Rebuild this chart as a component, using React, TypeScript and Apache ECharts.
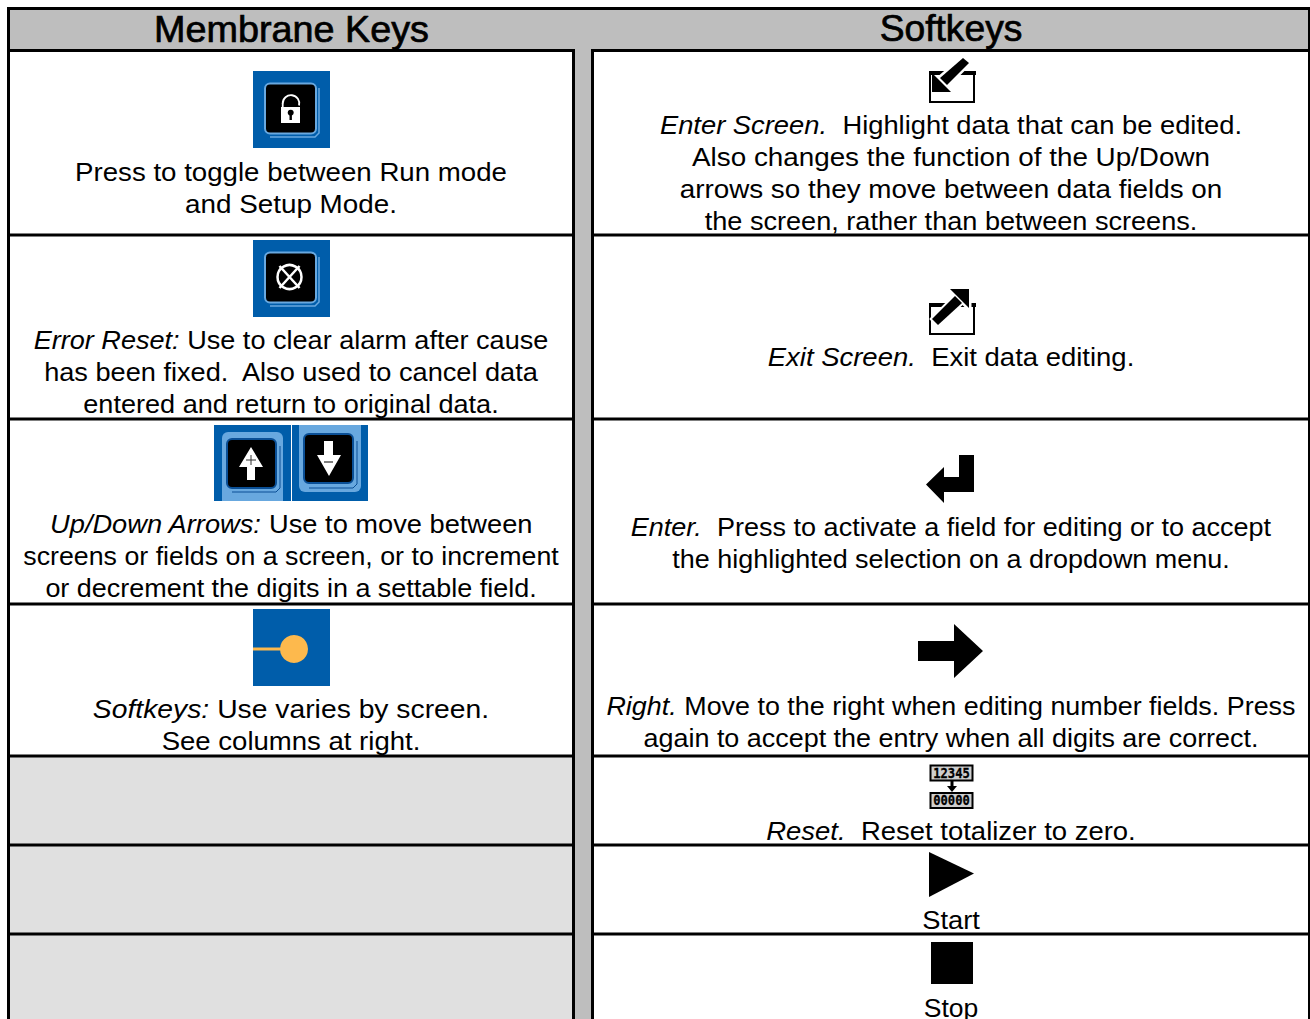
import React, { useEffect, useRef } from "react";
import * as echarts from "echarts";

const headers = ["Membrane Keys", "Softkeys"];
const membraneLines = [
  "Press to toggle between Run mode",
  "and Setup Mode.",
  "{i|Error Reset:} Use to clear alarm after cause",
  "has been fixed.  Also used to cancel data",
  "entered and return to original data.",
  "{i|Up/Down Arrows:} Use to move between",
  "screens or fields on a screen, or to increment",
  "or decrement the digits in a settable field.",
  "{i|Softkeys:} Use varies by screen.",
  "See columns at right.",
];
const softkeyLines = [
  "{i|Enter Screen.}  Highlight data that can be edited.",
  "Also changes the function of the Up/Down",
  "arrows so they move between data fields on",
  "the screen, rather than between screens.",
  "{i|Exit Screen.}  Exit data editing.",
  "{i|Enter.}  Press to activate a field for editing or to accept",
  "the highlighted selection on a dropdown menu.",
  "{i|Right.} Move to the right when editing number fields. Press",
  "again to accept the entry when all digits are correct.",
  "{i|Reset.}  Reset totalizer to zero.",
  "Start",
  "Stop",
];
const counterTop = "12345";
const counterBottom = "00000";

const membraneY = [172, 204, 340, 372, 404, 524, 556, 588, 709, 741];
const membraneStretch = [1.044, 1.05, 1.022, 1.025, 1.022, 1.028, 1.01, 1.017, 1.068, 1.04];
const softkeyY = [125, 157, 189, 221, 357, 527, 559, 706, 738, 831, 920, 1008];
const softkeyStretch = [1.032, 1.05, 1.05, 1.023, 1.037, 1.02, 1.018, 1.015, 1.016, 1.037, 1.03, 1];
const rowLines = [235, 419, 604, 756, 845, 934];

const FONT = '"Liberation Sans", Arial, sans-serif';
const BLUE = "#005DAA";
const LIGHT = "#68A8DF";
const B = "#000";

const rect = (x: number, y: number, w: number, h: number, fill: string, r: any = 0, extra: any = {}) => ({
  type: "rect",
  shape: { x, y, width: w, height: h, r },
  style: { fill, ...extra },
});
const poly = (pts: number[][], fill: string, extra: any = {}) => ({
  type: "polygon",
  shape: { points: pts },
  style: { fill, ...extra },
});
const line = (x1: number, y1: number, x2: number, y2: number, stroke: string, lineWidth: number) => ({
  type: "line",
  shape: { x1, y1, x2, y2 },
  style: { stroke, lineWidth, fill: "none" },
});
const curve = (pts: number[][], stroke: string, lineWidth: number) => ({
  type: "polyline",
  shape: { points: pts },
  style: { stroke, lineWidth, fill: "none" },
});
const text = (s: string, x: number, y: number, size = 26.5, scaleX = 1, extra: any = {}) => ({
  type: "text",
  x,
  y,
  scaleX,
  style: {
    text: s,
    x: 0,
    y: 0,
    align: "center",
    verticalAlign: "middle",
    fill: "#000",
    fontFamily: FONT,
    fontSize: size,
    rich: { i: { fontFamily: FONT, fontSize: size, fontStyle: "italic", fill: "#000" } },
    ...extra,
  },
});

function panelKey(ox: number, oy: number) {
  return [
    rect(ox, oy, 77, 77, BLUE),
    rect(ox + 12, oy + 12.5, 51, 50, B, 5, { stroke: LIGHT, lineWidth: 2 }),
    curve([[ox + 17, oy + 66], [ox + 62, oy + 66], [ox + 66, oy + 62], [ox + 66, oy + 17]], LIGHT, 1.5),
  ];
}

function buildGraphics() {
  const g: any[] = [];
  // backgrounds
  g.push(rect(0, 0, 1310, 1019, "#fff"));
  g.push(rect(9, 9, 1300, 41, "#BEBEBE"));
  g.push(rect(575, 50, 16, 969, "#BEBEBE"));
  g.push(rect(10, 756, 563, 263, "#E0E0E0"));
  // frame
  g.push(rect(7, 7, 1303, 3, B));
  g.push(rect(7, 7, 3, 1012, B));
  g.push(rect(7, 49, 566, 3, B));
  g.push(rect(591, 49, 719, 3, B));
  g.push(rect(572, 49, 3, 970, B));
  g.push(rect(591, 49, 3, 970, B));
  g.push(rect(1308, 7, 2, 1012, B));
  rowLines.forEach((y) => {
    g.push(rect(7, y - 1.5, 568, 3, B));
    g.push(rect(591, y - 1.5, 719, 3, B));
  });

  // headers
  const headerStroke = { stroke: "#000", lineWidth: 0.7 };
  g.push(text(headers[0], 291.5, 29, 36.5, 1.035, headerStroke));
  g.push(text(headers[1], 951, 29, 36.5, 1.02, headerStroke));

  // lock key
  g.push(...panelKey(253, 71));
  g.push({ type: "arc", shape: { cx: 291, cy: 103.5, r: 8.3, startAngle: Math.PI, endAngle: Math.PI * 2.08, clockwise: true }, style: { stroke: "#fff", lineWidth: 1.8, fill: "none" } });
  g.push(line(282.7, 103, 282.7, 108, "#fff", 1.8));
  g.push(rect(281, 107, 19, 16, "#fff"));
  g.push({ type: "circle", shape: { cx: 290.7, cy: 112.7, r: 3 }, style: { fill: B } });
  g.push(rect(289.5, 113, 2.4, 7, B));

  // error reset key
  g.push(...panelKey(253, 240));
  g.push({ type: "circle", shape: { cx: 289.5, cy: 277, r: 12 }, style: { stroke: "#fff", lineWidth: 2.5, fill: "none" } });
  g.push(line(279.5, 266, 299.5, 288, "#fff", 2.5));
  g.push(line(299.5, 266, 279.5, 288, "#fff", 2.5));

  // up key
  g.push(rect(214, 425, 77, 76, BLUE));
  g.push(rect(222, 432, 61, 69, LIGHT, [6, 6, 0, 0]));
  g.push(rect(227, 439, 49, 49, B, 5, { stroke: "#0A4F96", lineWidth: 2 }));
  g.push(curve([[232, 492], [276, 492], [280, 488], [280, 446]], "#0A4F96", 1));
  g.push(poly([[251, 447], [263, 467], [255, 467], [255, 480], [247, 480], [247, 467], [239, 467]], "#fff"));
  g.push(line(246, 460, 256, 460, "#333", 1));
  g.push(line(251, 455, 251, 465, "#333", 1));
  // down key
  g.push(rect(292, 425, 76, 76, BLUE));
  g.push(rect(299, 425, 62, 67, LIGHT, [0, 0, 6, 6]));
  g.push(rect(304, 434, 49, 49, B, 5, { stroke: "#0A4F96", lineWidth: 2 }));
  g.push(curve([[309, 488], [353, 488], [357, 484], [357, 441]], "#0A4F96", 1));
  g.push(poly([[324, 441], [333, 441], [333, 455], [341, 455], [329, 476], [317, 455], [324, 455]], "#fff"));
  g.push(line(324, 462, 333, 462, "#555", 1.5));

  // softkey
  g.push(rect(253, 609, 77, 77, BLUE));
  g.push(rect(253, 647.5, 32, 3, "#FDB94D"));
  g.push({ type: "circle", shape: { cx: 294, cy: 649, r: 14 }, style: { fill: "#FDB94D" } });

  // enter screen
  g.push(rect(930, 72, 44, 30, "#fff", 0, { stroke: B, lineWidth: 2 }));
  g.push(rect(929, 71, 47, 4, B));
  g.push(poly([[963, 58], [969, 63], [947, 85], [940, 78]], "#fff", { stroke: "#fff", lineWidth: 5 }));
  g.push(poly([[963, 58], [969, 63], [947, 85], [940, 78]], B));
  g.push(poly([[932, 73], [932, 92], [951, 92]], B));

  // exit screen
  g.push(rect(930, 304, 44, 30, "#fff", 0, { stroke: B, lineWidth: 2 }));
  g.push(rect(929, 303, 47, 4, B));
  g.push(poly([[950, 289], [969, 289], [969, 308]], "#fff", { stroke: "#fff", lineWidth: 5 }));
  g.push(poly([[932, 319], [955, 296], [962, 303], [938, 325]], "#fff", { stroke: "#fff", lineWidth: 4 }));
  g.push(poly([[932, 319], [955, 296], [962, 303], [938, 325]], B));
  g.push(poly([[950, 289], [969, 289], [969, 308]], B));

  // enter
  g.push(poly([[959, 455], [974, 455], [974, 492], [944, 492], [944, 503], [926, 484.5], [944, 467], [944, 477], [959, 477]], B));
  // right
  g.push(poly([[918, 641], [954, 641], [954, 624], [983, 651], [954, 678], [954, 661], [918, 661]], B));

  // reset counters
  const digitStyle = { fontFamily: '"DejaVu Sans Mono", monospace', fontWeight: "bold", stroke: "#000", lineWidth: 0.3 };
  g.push(rect(930.5, 765.5, 42, 15, "#CFCFCF", 0, { stroke: B, lineWidth: 2 }));
  g.push(text(counterTop, 951.5, 773, 13.5, 0.9, digitStyle));
  g.push(line(952, 781, 952, 788, B, 3));
  g.push(poly([[947, 786], [957, 786], [952, 792]], B));
  g.push(rect(930.5, 793, 42, 15, "#CFCFCF", 0, { stroke: B, lineWidth: 2 }));
  g.push(text(counterBottom, 951.5, 800.5, 13.5, 0.9, digitStyle));

  // start / stop
  g.push(poly([[929, 852], [974, 873.5], [929, 897]], B));
  g.push(rect(931, 942, 42, 42, B));

  membraneLines.forEach((s, i) => g.push(text(s, 291, membraneY[i], 26.5, membraneStretch[i])));
  softkeyLines.forEach((s, i) => g.push(text(s, 951, softkeyY[i], 26.5, softkeyStretch[i])));
  return g;
}

export default function App() {
  const ref = useRef<HTMLDivElement>(null);
  useEffect(() => {
    document.body.style.margin = "0";
    const chart = echarts.init(ref.current!, null, { renderer: "svg" });
    chart.setOption({ animation: false, backgroundColor: "#fff", graphic: { elements: buildGraphics() } });
    return () => chart.dispose();
  }, []);
  return <div ref={ref} style={{ width: 1310, height: 1019 }} />;
}
